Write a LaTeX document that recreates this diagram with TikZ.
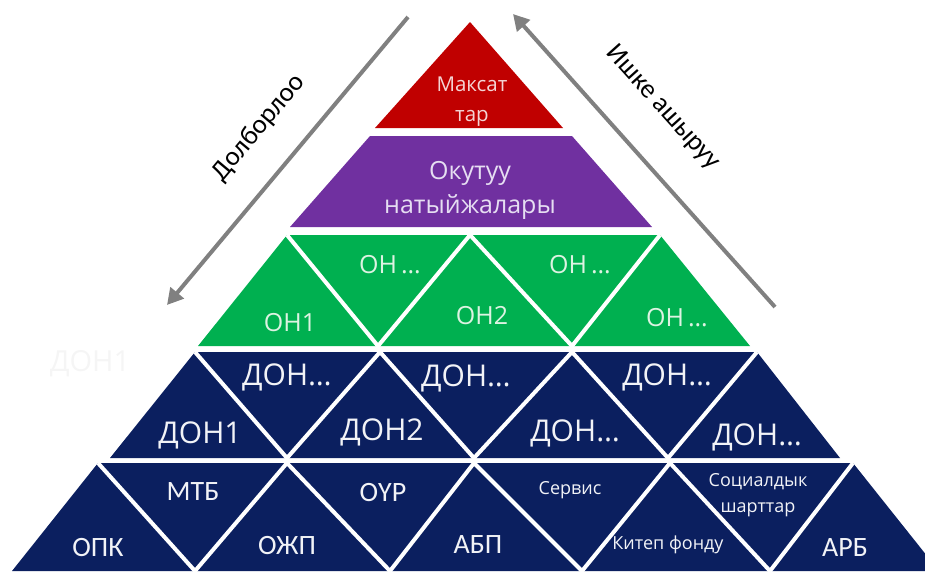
\documentclass[tikz,border=0pt]{standalone}
\usepackage{fontspec}
\setmainfont{Open Sans}
\newfontfamily\calfont{Carlito}
\usetikzlibrary{arrows.meta}
\definecolor{pyrred}{HTML}{C00000}
\definecolor{pyrpurple}{HTML}{7030A0}
\definecolor{pyrgreen}{HTML}{00B050}
\definecolor{pyrnavy}{HTML}{0B1F5F}
\definecolor{arrowgray}{HTML}{808080}
\definecolor{redtext}{HTML}{F4D4D4}
\definecolor{purpletext}{HTML}{E6DEF2}
\definecolor{greentext}{HTML}{DDF3E2}
\definecolor{navytext}{HTML}{F2F3F7}
\begin{document}
\begin{tikzpicture}[x=1pt,y=-1pt,
  sepline/.style={white,line width=4pt},
  gray arrow/.style={arrowgray,line width=4pt,-{Triangle[length=16pt,width=17pt]}},
  sidelabel/.style={font=\calfont\fontsize{27}{30}\selectfont,inner sep=0pt},
  redlabel/.style={text=redtext,font=\fontsize{20.5}{30}\selectfont,align=center,inner sep=0pt},
  purplelabel/.style={text=purpletext,font=\fontsize{25}{34}\selectfont,align=center,inner sep=0pt},
  greenlabel/.style={text=greentext,font=\fontsize{25}{28}\selectfont,inner sep=0pt},
  donlabel/.style={text=navytext,font=\fontsize{30}{33}\selectfont,inner sep=0pt},
  bottomlabel/.style={text=navytext,font=\calfont\fontsize{28}{30}\selectfont,inner sep=0pt},
  smalllabel/.style={text=navytext,font=\fontsize{18}{26}\selectfont,align=center,inner sep=0pt}]
\useasboundingbox (0,0) rectangle (925,571);
\clip (0,0) rectangle (925,571);
% ---------- vertices ----------
% red
\coordinate (r1) at (470,22); \coordinate (r2) at (563,128); \coordinate (r3) at (375,128);
% purple
\coordinate (p1) at (370,136); \coordinate (p2) at (572,136);
\coordinate (p3) at (652,227); \coordinate (p4) at (290,227);
% green band
\coordinate (gt1) at (287,235); \coordinate (gt2) at (470,235); \coordinate (gt3) at (660,235);
\coordinate (gb1) at (198,346); \coordinate (gb2) at (378,346); \coordinate (gb3) at (572,346); \coordinate (gb4) at (750,346);
% don band
\coordinate (dt1) at (195,352); \coordinate (dt2) at (380,352); \coordinate (dt3) at (572,352); \coordinate (dt4) at (757,352);
\coordinate (db1) at (110,458); \coordinate (db2) at (287,458); \coordinate (db3) at (474,458); \coordinate (db4) at (668,458); \coordinate (db5) at (840,458);
% bottom band
\coordinate (bt1) at (98,463); \coordinate (bt2) at (287,463); \coordinate (bt3) at (474,463); \coordinate (bt4) at (670,463); \coordinate (bt5) at (853,463);
\coordinate (bb1) at (12,571); \coordinate (bb2) at (195,571); \coordinate (bb3) at (390,571); \coordinate (bb4) at (582,571); \coordinate (bb5) at (770,571); \coordinate (bb6) at (939,571);
% ---------- shapes ----------
\fill[pyrred] (r1) -- (r2) -- (r3) -- cycle;
\fill[pyrpurple] (p1) -- (p2) -- (p3) -- (p4) -- cycle;
\fill[pyrgreen] (gt1) -- (gt3) -- (gb4) -- (gb1) -- cycle;
\fill[pyrnavy] (dt1) -- (dt4) -- (db5) -- (db1) -- cycle;
\fill[pyrnavy] (bt1) -- (bt5) -- (bb6) -- (bb1) -- cycle;
% separators
\draw[sepline] (gt1) -- (gb2) -- (gt2) -- (gb3) -- (gt3);
\draw[sepline] (dt1) -- (db2) -- (dt2) -- (db3) -- (dt3) -- (db4) -- (dt4);
\draw[sepline] (bt1) -- (bb2) -- (bt2) -- (bb3) -- (bt3) -- (bb4) -- (bt4) -- (bb5) -- (bt5);
% ---------- arrows ----------
\coordinate (la1) at (408,17); \coordinate (la2) at (167,305);
\coordinate (ra1) at (775,307); \coordinate (ra2) at (513,14);
\draw[gray arrow] (la1) -- (la2);
\draw[gray arrow] (ra1) -- (ra2);
\node[sidelabel,rotate=50] (plan) at (259,128) {Долборлоо};
\node[sidelabel,rotate=-48] (impl) at (663,108) {Ишке ашыруу};
% ---------- labels ----------
\node[redlabel] (goals) at (472,102) {Максат\\тар};
\node[purplelabel] (outcomes) at (470,190) {Окутуу\\натыйжалары};
\node[greenlabel] (on1) at (290,323) {ОН1};
\node[greenlabel] (ona) at (390,265) {ОН\,…};
\node[greenlabel] (on2) at (482,316) {ОН2};
\node[greenlabel] (onb) at (580,265) {ОН\,…};
\node[greenlabel] (onc) at (677,318) {ОН\,…};
\node[text=black!4,font=\fontsize{29}{32}\selectfont,inner sep=0pt] (ghost) at (90,364) {ДОН1};
\node[donlabel] (don1) at (200,435) {ДОН1};
\node[donlabel] (dona) at (287,377) {ДОН…};
\node[donlabel] (don2) at (382,432) {ДОН2};
\node[donlabel] (donb) at (466,378) {ДОН…};
\node[donlabel] (donc) at (575,433) {ДОН…};
\node[donlabel] (dond) at (667,377) {ДОН…};
\node[donlabel] (done) at (757,437) {ДОН…};
\node[bottomlabel] (opk) at (98,547) {ОПК};
\node[bottomlabel] (mtb) at (193,492) {МТБ};
\node[bottomlabel] (ozhp) at (287,545) {ОЖП};
\node[bottomlabel] (our) at (383,492) {ОҮР};
\node[bottomlabel] (abp) at (478,545) {АБП};
\node[smalllabel] (service) at (570,490) {Сервис};
\node[smalllabel] (library) at (668,545) {Китеп фонду};
\node[smalllabel] (social) at (758,495) {Социалдык\\шарттар};
\node[bottomlabel] (arb) at (845,548) {АРБ};
\end{tikzpicture}
\end{document}
